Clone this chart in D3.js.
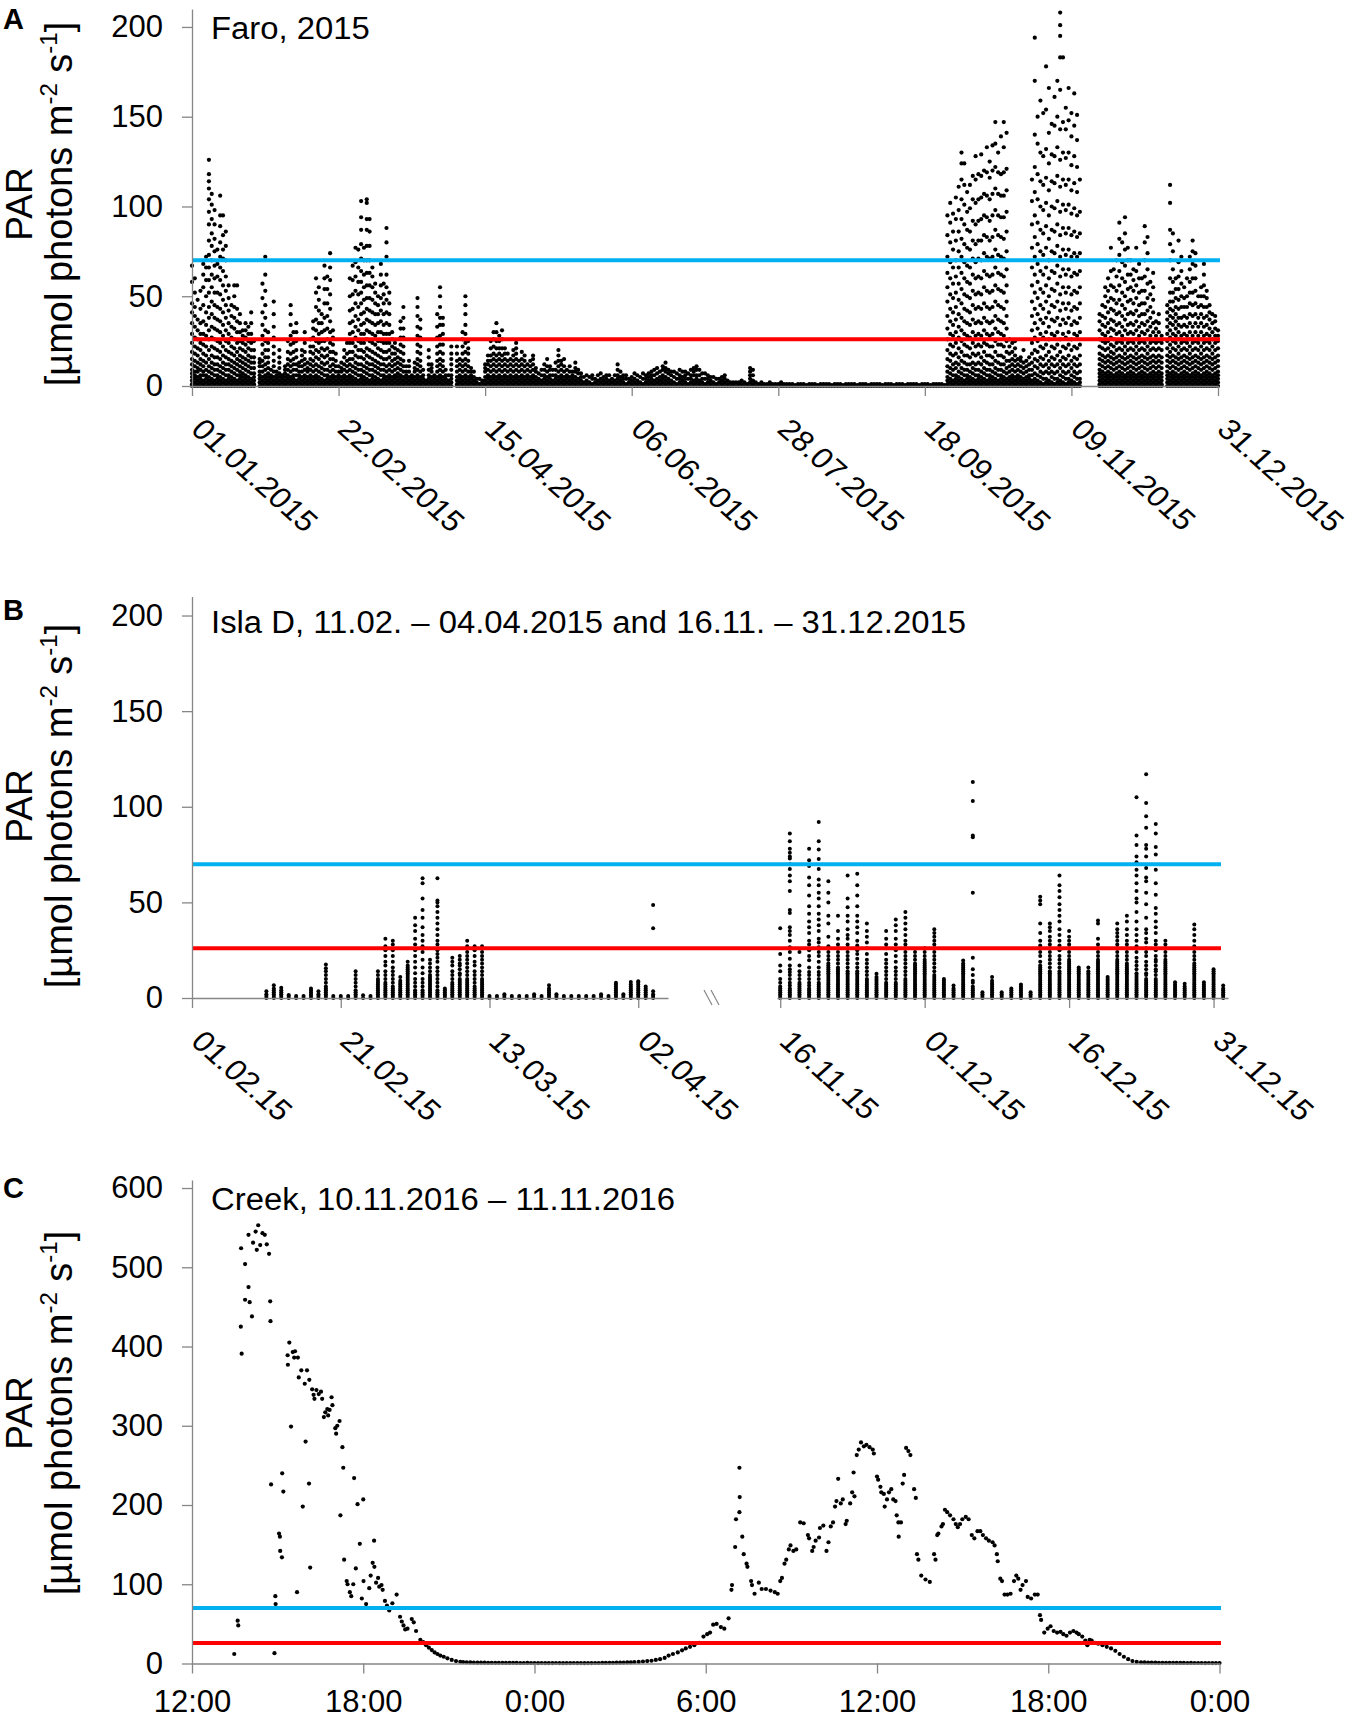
<!DOCTYPE html>
<html>
<head>
<meta charset="utf-8">
<script src="https://cdn.jsdelivr.net/npm/d3@7"></script>
<style>
  body { margin: 0; background: #fff; }
  svg text { font-family: "Liberation Sans", Arial, sans-serif; }
</style>
</head>
<body>
<svg id="chart" width="1355" height="1718"></svg>
<script>
// ---------- data ----------
// Faro 2015: one string per day, every reading of that day (PAR)
const faroJan = ["0 1 3 5 7 9 12 15 19 24 29 35 41 46 58 67","0 2 4 6 8 11 14 18 22 27 33 39 44 52 60","0 1 3 5 8 10 13 17 21 26 31 37 48","0 2 4 6 9 12 15 20 24 29 35 43 53","0 1 3 6 8 11 14 18 23 29 36 45 55 62 68","0 2 4 6 9 13 17 22 28 34 41 50 59 66 72","0 1 3 5 8 11 15 20 26 31 38 44 52 59 66 73 81 90 97 104 110 114 118 126","0 2 4 7 10 13 17 22 27 33 40 47 55 62 70 78 85 93 101 107","0 1 3 6 9 12 16 21 26 32 38 45 52 60 67 75 82 90 98","0 2 4 6 9 12 16 20 25 31 37 44 52 61 68 76","0 1 3 5 8 11 15 19 24 30 36 43 51 59 66 72 80 89 95 106","0 2 4 7 10 13 17 22 28 34 41 48 56 64 71 76 84 95","0 1 3 6 9 12 16 20 25 31 38 45 53 61 70 78 86","0 2 4 6 9 12 15 19 24 29 35 42 49 56","0 1 3 5 8 11 14 18 22 27 33 39 45","0 2 4 7 10 13 17 21 26 32 38 44 50 56","0 1 3 6 9 12 15 19 24 30 36 43 56","0 2 4 6 8 11 14 17 21 25 30 35 40","0 1 3 5 7 10 13 16 20 24 28 31","0 2 4 6 9 12 15 19 23 27 31 35","0 1 3 5 8 11 14 17 21 25 29 33","0 2 4 7 10 13 16 20 24 29 35 41","0 1 3 5 7 10 13 16 20 25","","0 2 4 6 8 11 13 15","0 1 3 5 8 11 14 18 23 28 34 41 49 57","0 2 4 6 9 12 16 20 25 31 38 45 53 62 72","0 1 3 5 7 10 13 16 20 24 30","0 2 4 6 9","0 1 3 5 8 11 14 18 22 27 33 40 47","0 2 4 6 8"];
const faroFeb = ["0 1 3 5 7 10 13 16 20","0 2 4 6","0 1 3 5 7 9 11","0 2 4 6 9 12 15 19 25","0 1 3 5 8 11 14 18 23 28 34 40 45","0 2 4 6 9 12 15 19 24 30","0 1 3 6 9 12 16 20 25 30 35","0 2 4 6 8 11 13","0 1 3 5 8 11 14 17 20","0 2 4 6 9 12 15 19 24 30","0 1 3 5 8 10 13","0 2 4 6 9 12 15 19 22 26","0 1 3 5 8 11 14 18 22 27 32 36","0 2 4 6 9 12 16 20 25 31 37 44 52 60","0 1 3 5 8 11 15 19 24 29 35 42 48 55","0 2 4 7 10 13 17 21 25 30 35 40","0 1 3 6 9 12 16 20 25 31 38 46 54 60 67","0 2 4 6 9 13 17 21 26 32 39 46 54 61","0 1 3 5 8 11 15 19 24 30 36 43 51 59 66 74","0 2 4 6 9 12 15 19 23 27 31","0 1 3 5 8 11 14 18","0 2 4 6 8 11","0 1 3 5 8 10 13","0 2 4 6 9 12 16 20","0 1 3 5 8 11 14 18 24","0 2 4 6 9 12 15 19 24 29 35 42 50 60","0 1 3 5 8 11 15 19 24 30 36 43 51 59 67","0 2 4 7 10 13 17 22 27 33 39 46 53 61 69 77"];
const faroMar = ["0 1 3 6 9 12 16 20 25 31 37 44 51 58 66 76","0 2 4 6 9 12 16 20 24 29 34 40 46 52 58 64 71 79 87 94 103","0 1 3 5 8 11 15 19 24 29 35 41 48 55 62 70 77","0 2 4 7 10 13 17 21 26 31 37 43 49 56 63 70 78 87 93 102 104","0 1 3 6 9 12 16 20 25 30 36 42 49 56 63 70 78 86 93","0 2 4 6 9 12 15 19 24 29 35 41 48 55 61 66","0 1 3 5 8 11 14 18 23 28 34 40 46 52 57","0 2 4 7 10 13 17 21 25 30 35 40 45 50","0 1 3 6 9 12 16 20 25 30 36 42 49 56 62 68","0 2 4 6 9 12 15 19 24 29 34 40 46 51 57","0 1 3 5 8 11 15 19 24 29 35 41 48 55 62 72 80 88","0 2 4 6 9 12 16 20 24 29 34 40 46 52","0 1 3 5 8 11 14 18 22 26 30","0 2 4 6 9 12 15 18 21 24","0 1 3 5 7 10 13 16 20","0 2 4 6 9 12 15 19 23 27 32 36","0 1 3 5 8 11 14 18 22 27 32 38 44","0 2 4 6 8 11","0 1 3 5 8 11 14","0 2 4 6","0 1 3 5 8 10 13","0 2 4 6 9 12 15 19 23 28 33 39 44 49","0 1 3 5 8 11 14 18 22 27 32 37","0 2 4 6 9","0 1 3","0 2 4 6 9 12 16 20","0 1 3 5 8 10 12","0 2 4 6","0 1 3 5 8 11 14 18 22 27 33 40","0 2 4 6 9 12 15 19 23 28 34 38 44 50 55","0 1 3 5 8 11 14 18 23 29 34 38"];
const faroApr = ["0 2 4 6 9","0 1 3 6","0 2 4 6 9 12 15 18 22","","0 1 3 5 8 11 14 18 22","0 2 4 6 9 12 15","0 1 3 5 8 11 14 18 22 26 30","0 2 4 6 9 12 15 19 24 29 34 40 45 50","0 1 3 5 8 11 14 18 21 25","0 2 4 6 8 10","0 1 3 5 8","0 2 4","0 1 4","0 2 3","0 1 3 5 8 10 12","0 2 4 6 9 12 14 17","0 1 3 5 8 11 14 17 21 25","0 2 4 6 9 12 15 18 22 26 30","0 1 3 5 8 11 14 17 21 25 30 35","0 2 4 6 9 12 15 18 21 25 28","0 1 3 5 8 11 14 17 21 26 31","0 2 4 6 9 12 15 18 21","0 1 3 5 8 11 14 18","0 2 4 6 9 12 15","0 1 3 5 8 11 14 17 20","0 2 4 6 9 12 15 18 21 24","0 1 3 5 8 11 14","0 2 4 6 9 12 15 19","0 1 3 5 8 11 14 17","0 2 4 6 9 12"];
const faroMay = ["0 1 3 5 8 11 14","0 2 4 6 9 12 15 17","0 1 3 5 8 10","0 2 4 7","0 1 3 6 9","0 2 4 6 9 12","0 1 3 5 8 11 15","0 2 4 6 9 11","0 1 3 6 9","0 2 4 6 9 13","0 1 3 5 8 11 14 17 20","0 2 4 6 9 12 14","0 1 3 5 8 11 15","0 2 4 6 9","0 1 3 5 8 11","0 2 4 6 8","0 1 3 5 8 10 13","0 2 4 7 9","0 1 3 5 7","0 2 5","0 1 3 6","0 2 5","0 1 4 6","0 2 4","0 1 3 6","0 2 4 7","0 1 3 5","0 2 4 6","0 1 3 6","0 2 4","0 1 3 6"];
const faroJun = ["0 2 4 6 9 12","0 1 3 5 8","0 2 4 6","0 1 4 6","0 2 4","0 1 3 5","0 2 4 7","0 1 3 6","0 2 5","0 1 4 7","0 2 4 6","0 1 3 5 7","0 2 4 6 8","0 1 3 6 9","0 2 4 7 10","0 1 3 5 8","0 2 4 6 9 11","0 1 3 5 8 10 13","0 2 4 7 9","0 1 3 6 8","0 2 5 8","0 1 4 7","0 2 4 6 9","0 1 3 5 8","0 2 4 6 8","0 1 4 7","0 2 4 6 9","0 1 3 6 8 10","0 2 4 6 9 11","0 1 3 6 9"];
const faroJul = ["0 2 4 7","0 1 4 7","0 2 4 6","0 1 3 5","0 2 5","0 1 4","0 2 4","0 1 3 5","0 2 4 6","0 1 3","0 2","0 1 2","0 2","0 1 2","0 1 3","0 2","0 1","0 2 4 6 8 10","0 1 3 6 9","0 2","0 1","0 1 2","0 1","0 1","0 1 2","0 1","0 1","0 1","0 1 2","0 1","0 1"];
const faroAug = ["0 1","0 1","0 0.5","0 1","0 1","0 1","0 0.5","0 1","0 1","0 1","0 0.5","0 1","0 1","0 1","0 1","0 0.5","0 1","0 1","0 1","0 0.5","0 1","0 1","0 1","0 1","0 0.5","0 1","0 1","0 1","0 0.5","0 1","0 1"];
const faroSep = ["0 1","0 1","0 0.5","0 1","0 1","0 1","0 0.5","0 1","0 1","0 1","0 0.5","0 1","0 1","0 1","0 1","0 0.5","0 1","0 1","0 1","0 0.5","0 1","0 1","0 1","0 1","0 0.5",
  "0 1 3 5 8 11 15 20 26 32 39 47 55 63 72 84 95","0 2 4 7 10 14 18 23 29 36 43 51 60 69 80 91 102","0 1 3 6 9 12 17 22 28 34 41 49 57 66 76 86 96","0 2 4 6 10 13 18 24 30 37 44 52 61 70 81 93 105","0 1 3 5 8 12 16 21 27 33 40 48 57 66 75 86 98 111"];
const faroOct = ["0 2 4 7 10 14 19 25 31 38 46 54 63 72 82 93 104 115 124 130","0 1 3 6 9 13 17 23 29 36 43 51 60 69 79 90 101 112 124","0 2 4 6 9 12 17 22 28 35 42 50 58 67 77 87 97 108","0 1 3 5 8 12 16 21 27 34 41 49 57 66 76 86 99 112","0 2 4 7 10 13 18 24 30 37 45 53 62 71 81 92 104 117","0 1 3 6 9 12 17 22 28 35 43 51 60 69 79 90 102 115 128","0 2 4 6 9 13 18 23 29 36 44 52 61 71 81 92 104 118","0 1 3 5 8 12 16 22 28 35 43 51 60 70 81 93 105 117 129","0 2 4 7 10 14 19 24 31 38 46 55 64 74 84 95 107 120","0 1 3 6 9 13 17 23 29 36 44 53 62 72 83 94 106 119 133","0 2 4 6 9 12 17 22 28 35 43 52 61 71 81 92 104 116 125","0 1 3 5 8 12 16 22 29 36 44 53 62 72 83 95 107 120 134","0 2 4 7 10 14 19 25 32 39 47 56 66 76 87 98 110 122 135 147","0 1 3 6 9 13 17 23 30 37 45 54 63 73 84 95 107 119 130","0 2 4 6 9 12 17 23 29 36 44 53 62 72 83 94 106 118 139","0 1 3 5 8 12 16 22 28 35 43 52 61 71 82 94 106 119 133 147","0 2 4 7 10 14 19 25 32 39 47 56 65 75 86 97 109 121 141",
  "0 1 3 5 8 11 14 18 22 26","0 2 4 6 9 12 15 19 24","0 1 3 5 8 11 14 17 21 25","0 2 4 6 9 12 15","0 1 3 5 8 11 14 16","0 2 4 7 10 13 20","0 1 3 5 8 11 14","0 2 4 6 9 12 16",
  "0 1 3 6 9 13 18 24 31 39 47 56 66 77 90 103 115","0 2 4 7 11 15 20 27 35 43 52 62 72 83 95 108 122 140 170 194","0 1 3 6 10 14 19 25 32 40 49 58 68 79 91 104 118 135 150","0 2 5 8 12 16 22 29 37 45 54 64 75 87 100 114 130 159","0 1 4 7 11 15 21 27 35 43 52 62 73 85 98 112 128 152","0 2 4 8 12 17 23 30 38 47 56 66 77 89 102 116 132 154 178"];
const faroNov = ["0 1 3 7 10 14 19 26 33 41 50 60 70 82 95 109 124 141 166","0 2 5 8 12 16 22 29 37 45 54 64 75 87 100 114 129 146","0 1 4 7 11 15 21 28 36 44 53 63 74 86 99 113 128 145 161","0 2 4 8 12 17 23 30 38 47 57 67 78 90 103 117 133 150 170","0 1 3 6 10 14 19 26 34 42 51 61 72 84 97 111 126 143 165 183 195 201 208","0 2 5 8 12 16 22 29 37 46 55 65 76 88 101 115 130 147 183","0 1 4 7 11 15 21 27 35 43 52 62 73 85 98 112 127 143 155","0 2 4 8 12 17 23 30 38 46 55 65 76 88 101 115 130 148 166","0 1 3 6 10 14 20 26 34 42 51 61 72 84 96 109 123 139 152","0 2 5 8 12 16 22 29 36 44 53 63 74 86 99 113 128 145 163","0 1 4 7 11 15 21 28 35 43 52 62 72 83 95 108 122 137 151","0 2 4 8 12 17 23 30 38 46 55 64 74 85 97 115",
  "","","","","","",
  "0 1 3 5 7 9 12 15 18 22 26 31 36 40","0 2 4 6 8 11 14 17 21 25 29 34 39 45","0 1 3 5 7 10 13 16 20 24 28 33 38 44 50 55","0 2 4 6 8 11 14 17 21 25 30 35 41 47 53 60","0 1 3 5 7 10 13 16 19 23 27 32 37 43 49 56 64 77","0 2 4 6 9 12 15 18 22 26 31 36 42 48 55 65","0 1 3 5 7 10 13 16 20 24 29 34 40 46 53 61 70","0 2 4 6 8 11 14 17 21 25 30 35 41 48 56 64 73 82 91","0 1 3 5 7 10 13 16 20 24 28 33 39 45 52 60 69 80","0 2 4 6 9 12 15 18 22 26 31 37 43 50 58 67 76 85 94","0 1 3 5 7 10 13 16 20 24 29 34 40 47 54 62 70 77","0 2 4 6 8 11 14 17 21 25 30 35 41 48 55 62 70"];
const faroDec = ["0 1 3 5 7 10 13 16 20 24 29 34 40 46 53 59 65","0 2 4 6 9 12 15 18 22 26 31 36 42 49 56 64 77","0 1 3 5 7 10 13 16 20 24 28 33 39 45 52 60 68","0 2 4 6 8 11 14 17 21 25 30 35 40 46 53 60","0 1 3 5 7 10 13 16 20 24 29 34 40 46 53 61 70 80 89","0 2 4 6 9 12 15 18 22 26 31 36 42 49 57 65 74 83","0 1 3 5 7 10 13 16 20 24 28 33 38 44 51 58","0 2 4 6 8 11 14 17 21 25 30 35 41 48 55 63","0 1 3 5 7 10 13 16 20 24 28 32 36","0 2 4 6 8 11 14 17 21 25 30 35 40","0 1 3 5 7 10 13 16 20 24 28",
  "",
  "0 2 4 6 8 11 14 17 21 25 29 33 37 41 45","0 1 3 5 7 10 13 16 19 23 27 31 35 39 43 47 52 60 70 79 87 102 112","0 2 4 6 8 11 14 17 21 25 29 34 38 42 47 52 58 65 75 85","0 1 3 5 7 10 13 16 20 24 28 32 36 40 44 49 54 60","0 2 4 6 9 12 15 18 22 26 30 34 38 43 48 54 61 69 81","0 1 3 5 7 10 13 16 20 24 28 33 38 44 50 57 64 72","0 2 4 6 8 11 14 17 21 25 29 34 39 44 49 55","0 1 3 5 7 10 13 16 20 24 28 33 38 44 50 60","0 2 4 6 9 12 15 18 22 26 30 35 40 46 52 58 65 72","0 1 3 5 7 10 13 16 20 24 28 33 39 45 52 60 68 75 81","0 2 4 6 8 11 14 17 21 25 30 35 40 46 53 60 67 74","0 1 3 5 7 10 13 16 20 24 28 33 38 44 50","0 2 4 6 9 12 15 18 22 26 30 35 40 45 50 55","0 1 3 5 7 10 13 16 20 24 28 33 38 44 50 56 62 68","0 2 4 6 8 11 14 17 21 25 29 34 39 44 49 53","0 1 3 5 7 10 13 16 20 24 28 32 37 41 45","0 2 4 6 9 12 15 18 22 26 30 35 40","0 1 3 5 7 10 13 16 20 24 28 32 36 39","0 2 4 6 8 11 14 17 21 25 28 31"];
const faroTicks = ["01.01.2015","22.02.2015","15.04.2015","06.06.2015","28.07.2015","18.09.2015","09.11.2015","31.12.2015"];

// Isla D: 11.02.–04.04.2015 and 16.11.2015–01.01.2016, one string per day
const islaSpring = ["0 1 2 3.5","0 1 2 3 4 5 6.7","0 1 2 3 4 5.3","0 1 1.6","0 1","0 1","0 1 2 3 4 5","0 1 2 3.5","0 1 2 3 4 5 6 8 10 12 14 15.5 17.5","0 1","0 1","0 1","0 1 2 3 4 6 8 10 12 14","0 1.5","0 1","0 1 2 3 4 5 6 7 8 9 10 12 14","0 1 2 3 4 5 6 7 8 10 12 14 17 19 22 25 27 31","0 1 2 3 4 5 6 8 10 12 14 16 19 22 25 28 30","0 1 2 3 4 5 6 7 8 9 11","0 1 2 3 4 5 6 7 8 9 10 11 12 13 14 15 16 17 19","0 1 2 3 4 6 8 10 13 16 19 22 25 28 31 35 38 42","0 1 2 3 4 6 8 10 13 16 20 24 27 30 33 37 42 46 52 60 62.6","0 1 2 3 4 5 6 7 8 9 10 11 12 14 16 18 20","0 1 2 3 4 6 8 10 12 14 16 19 21 23 25 28 30 33 36 39 42 45 48 50 51 62.6","0 1 2 3 4 5","0 1 2 3 4 5 6 7 8 10 12 14 17 19 21","0 1 2 3 4 5 6 7 8 9 10 12 13 15 17 18 20 22","0 1 2 3 4 5 6 7 8 9 10 12 14 16 18 20 22 24 26 27 30","0 1 2 3 4 5 6 8 10 12 14 17 19 22 25 27","0 1 2 3 4 5 6 7 8 9 10 12 14 16 18 20 22 24 26 27","0 1","0 1","0 1 2","0 1","0 1","0 1","0 1 2","0 1","0 1 2 3 4 5 6.7","0 1 2","0 1","0 1","0 1","0 1","0 1","0 1 2","0 1","0 1 2 3 4 5 6 7 8","0 1 2","0 1 2 3 4 5 6 7 8.4","0 1 2 3 4 5 6 7 8 8.8","0 1 2 3 4 5 6","0 1 2 3.5 36.5 48.6"];
const islaWinter = ["0 1 2 3 4 5 6 8 10 14 17 23 36.5","0 1 2 3 4 5 6.6 8 10 12 13.6 15 17 20.5 24 26.6 30 33 35 37 44.5 46 56 61 64 67.5 70 73 74 76 78 82 86","0 1 2 3 4 5 6 7 8 10 12 14 17 24","0 1 2 3 4 5 6.6 8 10 12 13.6 16 19.7 22 25 28 30 34 37 40 44 48 53.6 59 63 69 72 78","0 1 2 3 4 5 6 7 8 10 12 13.6 16 19 22 24 26.6 29 31 35 38 41 44 48 52 55 59 62 67.5 72.7 77.6 82 92","0 1 2 3 4 5 6 7 8 9 10 11 12 13 14 15 16 17 18 20 22 24 27 32 39 43 50 55 61","0 1 2 3 4 5 6 7 8 9 10 11 12 13 14 15 16 18 20 22 24 26 28 31 35 43","0 1 2 3 4 5 6 7 8 9 10 11 12 13 14 16 18 20 22 24 26 28 31 33 36 40 43 47.5 52 64","0 1 2 3 4 5 6 7 8 9 10 11 12 13 14 16 18 20.5 23 25 27.5 30 34 37 40 43 48 53.6 59 65","0 1 2 3 4 5 6 7 8 9 10 12 14 16 18 20 23 26 29 32 35 39","0 1 2 3 4 5 6 7 8 9 10 11 12.7","0 1 2 3 4 5 6 7 8 10 12 14 16 18 20 23 26 28 31 35","0 1 2 3 4 5 6 7 8 10 12 14 16 19 22 25 28 31 35 38 41","0 1 2 3 4 5 6 7 8 9 10 12 14 16 18 20 22 24 26 28 30 33 36 39 42 45","0 1 2 3 4 5 6 7 8 9 10 11 12 13 14 15 16 17 18 20 22 24","0 1 2 3 4 5 6 7 8 9 10 11 12 13 14 15 16 17 18 19 20 22 24 26","0 1 2 3 4 5 6 7 8 9 10 11 12 14 16 18 20 22 24 26 28 30 32 34 36","0 1 2 3 4 5 6 7 8 9 10","0 1 2 3 4 5 6.6","0 1 2 3 4 5 6 7 8 9 10 11 12 13 14 15 16 17 18 19.6","0 1 2 3 4 5 6 8 9 12 15 21 55 84 85 103 113","0 1 2 3","0 1 2 3 4 5 6 7 8 9 11","0 1 2 3","0 1 2 3 4 5","0 1 2 3 4 5 6 7","0 1 2 3","0 1 2 3 4 5 6 7 8 9 10 11 12 13 14 15 16 17 19 22 24 27.5 30 34 39 49 51 53","0 1 2 3 4 5 6 7 8 9 10 11 12 13 14 16 18 20 22 24 26 28 30 32 35 37 39","0 1 2 3 4 5 6 7 8 9 10 11 12 13 14 16 18 20 22 25 27.5 30 33 36 40 43 46 49 52.7 56 59 64","0 1 2 3 4 5 6 7 8 9 10 11 12 13 14 15 16 17 18 19 20 22 24 26 28 30 32 35","0 1 2 3 4 5 6 7 8 9 10 11 12 13 14 15 16","0 1 2 3 4 5 6 7 8 9 10 11 12 13 14 16","0 1 2 3 4 5 6 7 8 9 10 11 12 13 14 15 16 17 18 19 20 22 24 26 28 31 39 40.5","0 1 2 3 4 5 6 7 8 9 10 11","0 1 2 3 4 5 6 7 8 9 10 11 12 13 14 15 16 17 18 19 20 22 24 26 28 30 32 34 36 39","0 1 2 3 4 5 6 7 8 9 10 11 12 13 14 15 16 17 18 20 22 24 26 28 30 33 36 40 43","0 1 2 3 4 5 6 7 8 9 10 11 12 13 15 17 19 21 24 27 30 33 36 40 45 50 52 56 60 64 67 71 74 80 85 105","0 1 2 3 4 5 6 7 8 9 10 12 13 15 17 19 22 24 26 29 31 34 36 42 49 55 61 63 68 74 78 80 89 95 102 117","0 1 2 3 4 5 6 7 8 9 10 12 14 15 17 19 20 22 25 28 30 34 37 40 44 47 54 60 67 75 79 86 91","0 1 2 3 4 5 6 7 8 9 10 11 12 13 14 15 16 17 18 19 20 22 24 26 28 30","0 1 2 3 4 5 6 7 8.3","0 1 2 3 4 5 6 7.5","0 1 2 3 4 5 6 7 8 9 10 11 12 13 14 15 16 17 18 20 22 24 27 30 33 36 38.4","0 1 2 3 4 5 6 7 8.3","0 1 2 3 4 5 6 7 8 9 10 11 12 13 14 15","0 1 2 3 4 5 6.6"];
const islaTicksSpring = ["01.02.15","21.02.15","13.03.15","02.04.15"];
const islaTicksWinter = ["16.11.15","01.12.15","16.12.15","31.12.15"];

// Creek 10.11.2016 12:00 – 12.11.2016 0:00, [hours after 12:00, PAR]
const creekDay1 = [[1.48,12],[1.6,54],[1.62,48],[1.71,425],[1.74,391],[1.72,524],[1.86,504],[1.86,459],[1.98,541],[1.98,475],[2.02,456],[2.1,438],[2.14,531],[2.23,545],[2.27,522],[2.32,553],[2.39,528],[2.47,543],[2.55,541],[2.62,529],[2.7,517],[2.74,457],[2.75,432],[2.77,226],[2.89,13],[2.92,85],[2.93,75],[3.05,164],[3.08,160],[3.09,142],[3.15,134],[3.16,240],[3.2,217],[3.35,389],[3.36,377],[3.41,405],[3.47,299],[3.53,393],[3.58,386],[3.61,394],[3.68,90],[3.71,386],[3.74,361],[3.83,370],[3.88,198],[3.95,353],[3.98,280],[4.03,370],[4.1,227],[4.11,358],[4.14,121],[4.21,346],[4.26,339],[4.29,334],[4.36,345],[4.44,340],[4.52,343],[4.56,334],[4.62,311],[4.67,317],[4.74,321],[4.77,313],[4.82,320],[4.89,336],[4.92,326],[5.02,297],[5.05,290],[5.09,300],[5.17,306],[5.2,187],[5.27,273],[5.3,247],[5.33,131],[5.42,104],[5.45,100],[5.53,90],[5.58,85],[5.65,100],[5.68,234],[5.74,120],[5.8,201],[5.88,151],[5.95,82],[6.0,207],[6.01,104],[6.1,75],[6.21,95],[6.26,111],[6.33,127],[6.38,155],[6.39,122],[6.45,102],[6.52,108],[6.56,97],[6.64,99],[6.68,93],[6.76,79],[6.83,73],[6.91,67],[7.02,76],[7.17,87],[7.29,59],[7.35,53],[7.41,48],[7.47,43],[7.55,44],[7.7,56],[7.77,52],[7.85,41],[8.0,30],[8.1,27],[8.2,23],[8.3,20],[8.4,17],[8.5,14],[8.6,12],[8.7,10],[8.82,8.5],[8.95,6.5],[9.1,4.5],[9.25,3],[9.4,2.2]];
const creekNight1 = [1.8,1.6,1.4,1.2,1.1,1,1,0.9,0.9,0.8,0.8,0.8,0.7,0.7,0.8,0.7,0.6,0.6,0.7,0.6,0.5,0.5,0.6,0.5,0.5,0.5,0.6,0.5,0.4,0.5,0.5,0.6,0.5,0.5,0.4,0.5,0.5,0.6,0.6,0.7,0.7,0.8,0.9,1,1,1.2,1.3,1.5,1.8];
const creekNight1Start = 9.5;
const creekDay2 = [[15.65,2],[15.8,2.5],[15.95,3],[16.1,3.5],[16.25,4.5],[16.4,5.5],[16.56,7],[16.7,10],[16.85,12],[17.02,14],[17.17,16.6],[17.3,19],[17.45,21],[17.6,23],[17.77,26],[17.92,34],[18.05,37],[18.15,39],[18.26,49],[18.38,50],[18.53,46],[18.65,44],[18.8,57],[18.9,93],[18.92,99],[19.03,147],[19.06,182],[19.18,191],[19.19,210],[19.18,247],[19.28,160],[19.33,138],[19.43,126],[19.46,122],[19.59,104],[19.62,99],[19.71,88],[19.86,102],[19.96,94],[20.11,94],[20.27,92],[20.42,90],[20.52,88],[20.61,104],[20.67,108],[20.76,126],[20.82,131],[20.91,144],[20.97,149],[21.07,142],[21.17,144],[21.31,178],[21.43,177],[21.58,162],[21.62,158],[21.73,142],[21.78,147],[21.85,155],[21.97,159],[22.0,171],[22.12,174],[22.23,142],[22.3,153],[22.38,173],[22.46,178],[22.53,198],[22.58,205],[22.64,233],[22.73,202],[22.8,207],[22.9,176],[22.94,180],[23.06,202],[23.13,216],[23.18,241],[23.21,211],[23.29,263],[23.36,270],[23.44,279],[23.54,274],[23.63,276],[23.74,273],[23.85,270],[23.89,265],[24.0,236],[24.04,232],[24.12,223],[24.15,216],[24.24,214],[24.27,198],[24.35,207],[24.42,216],[24.5,220],[24.57,207],[24.65,205],[24.69,187],[24.75,178],[24.76,160],[24.84,178],[24.9,227],[24.95,238],[25.02,272],[25.1,268],[25.17,263],[25.3,220],[25.36,209],[25.4,138],[25.45,131],[25.55,111],[25.7,106],[25.85,103],[26.0,138],[26.05,131],[26.11,162],[26.15,164],[26.26,173],[26.31,176],[26.38,194],[26.46,191],[26.56,187],[26.68,182],[26.76,176],[26.83,172],[26.91,176],[26.99,182],[27.11,185],[27.21,182],[27.32,162],[27.41,158],[27.52,167],[27.62,167],[27.71,162],[27.82,158],[27.92,155],[28.05,153],[28.12,149],[28.2,138],[28.23,129],[28.32,107],[28.38,104],[28.47,87],[28.57,87],[28.68,88],[28.8,104],[28.88,111],[28.95,107],[29.03,93],[29.1,99],[29.22,104],[29.28,84],[29.4,82],[29.53,87],[29.63,87],[29.71,61],[29.75,55],[29.86,39],[29.98,44],[30.08,47],[30.19,41],[30.31,39],[30.43,40],[30.53,37],[30.64,35],[30.76,39],[30.88,41],[30.99,39],[31.07,37],[31.19,34],[31.3,29],[31.37,23],[31.45,30],[31.52,29],[31.64,26],[31.75,25],[31.9,23],[32.05,21],[32.2,19],[32.35,16],[32.5,12],[32.65,8.5],[32.8,5.4],[32.95,3],[33.1,2]];
const creekNight2 = [1.5,1.3,1.2,1,1,0.9,0.9,0.8,0.8,0.8,0.7,0.7,0.7,0.6,0.7,0.6,0.6,0.6,0.5,0.6,0.5,0.5,0.5];
const creekNight2Start = 33.25;
const creekNightStep = 0.125;
const creekTicks = ["12:00","18:00","0:00","6:00","12:00","18:00","0:00"];

const thresholds = [70, 26];
const panelLetters = ["A", "B", "C"];
const panelTitles = ["Faro, 2015", "Isla D, 11.02. \u2013 04.04.2015 and 16.11. \u2013 31.12.2015", "Creek, 10.11.2016 \u2013 11.11.2016"];
const yTitle = "PAR";
const yUnit = ["[\u00b5mol photons m", "-2", " s", "-1", "]"];

// ---------- drawing ----------
const svg = d3.select("#chart");
const FONT = "'Liberation Sans', Arial, sans-serif";
const grey = "#868686";
const lineColors = ["#00B0F0", "#FF0000"];
const values = s => s.trim() === "" ? [] : s.trim().split(/\s+/).map(Number);

function dailyPoints(start, days) {
  const pts = [];
  days.forEach((s, i) => {
    const date = d3.utcDay.offset(start, i);
    values(s).forEach(v => pts.push({ x: date, v }));
  });
  return pts;
}

function dots(pts, x, y, r) {
  svg.append("g").selectAll("circle").data(pts).join("circle")
    .attr("cx", d => x(d.x)).attr("cy", d => y(d.v)).attr("r", r).attr("fill", "#000");
}

function styleAxis(g) {
  g.attr("font-family", FONT).attr("font-size", 31);
  g.selectAll(".domain, .tick line").attr("stroke", grey).attr("stroke-width", 1.3);
  g.selectAll("text").attr("fill", "#000");
}

function leftAxis(y, ticks) {
  const g = svg.append("g").attr("transform", "translate(192,0)")
    .call(d3.axisLeft(y).tickValues(ticks).tickSize(10).tickSizeOuter(0).tickPadding(19));
  styleAxis(g);
}

// rotated date labels; the source figure is slightly stretched horizontally
function dateAxis(x, ticks, y0, fmt) {
  const g = svg.append("g").attr("transform", `translate(0,${y0})`)
    .call(d3.axisBottom(x).tickValues(ticks).tickFormat(fmt).tickSize(10).tickSizeOuter(0));
  styleAxis(g);
  g.selectAll("text").attr("x", 0).attr("y", 0).attr("dy", 0).attr("font-size", 29)
    .attr("text-anchor", "start").attr("transform", "translate(-3,45) scale(1.12,1) rotate(45)");
}

function thresholdLines(x0, x1, y) {
  svg.append("g").selectAll("line").data(thresholds).join("line")
    .attr("x1", x0).attr("x2", x1).attr("y1", d => y(d)).attr("y2", d => y(d))
    .attr("stroke", (d, i) => lineColors[i]).attr("stroke-width", 4);
}

function titles(i, letterY, titleY, cy) {
  svg.append("text").attr("x", 3).attr("y", letterY).attr("font-family", FONT)
    .attr("font-size", 29).attr("font-weight", "bold").text(panelLetters[i]);
  svg.append("text").attr("transform", `translate(211,${titleY}) scale(1.06,1)`)
    .attr("font-family", FONT).attr("font-size", 31).text(panelTitles[i]);
  const g = svg.append("g").attr("font-family", FONT).attr("text-anchor", "middle");
  g.append("text").attr("font-size", 37).attr("transform", `translate(32,${cy}) rotate(-90)`).text(yTitle);
  const t = g.append("text").attr("font-size", 38).attr("transform", `translate(72,${cy}) rotate(-90)`);
  yUnit.forEach((s, k) => {
    const sup = k % 2 === 1;
    t.append("tspan").attr("font-size", sup ? 24 : null)
      .attr("dy", k === 0 ? 0 : (sup ? -15 : 15)).text(s);
  });
}

// Panel A: Faro
const parseA = d3.utcParse("%d.%m.%Y");
const faroDays = [].concat(faroJan, faroFeb, faroMar, faroApr, faroMay, faroJun, faroJul, faroAug, faroSep, faroOct, faroNov, faroDec);
const xA = d3.scaleUtc().domain([parseA("01.01.2015"), parseA("31.12.2015")]).range([192, 1218]);
const yA = d3.scaleLinear().domain([0, 210]).range([386, 9]);
dots(dailyPoints(parseA("01.01.2015"), faroDays), xA, yA, 2.1);
thresholdLines(192, 1220, yA);
leftAxis(yA, [0, 50, 100, 150, 200]);
dateAxis(xA, faroTicks.map(parseA), 386, d3.utcFormat("%d.%m.%Y"));
titles(0, 29, 39, 204);

// Panel B: Isla D (broken date axis)
const parseB = d3.utcParse("%d.%m.%y");
const xB1 = d3.scaleUtc().domain([parseB("01.02.15"), parseB("06.04.15")]).range([192, 668]);
const xB2 = d3.scaleUtc().domain([d3.utcHour.offset(parseB("16.11.15"), -8), d3.utcHour.offset(parseB("01.01.16"), 12)]).range([777, 1228]);
const yB = d3.scaleLinear().domain([0, 210]).range([998, 596.4]);
dots(dailyPoints(parseB("11.02.15"), islaSpring), xB1, yB, 2);
dots(dailyPoints(parseB("16.11.15"), islaWinter), xB2, yB, 2);
thresholdLines(192, 1221, yB);
leftAxis(yB, [0, 50, 100, 150, 200]);
dateAxis(xB1, islaTicksSpring.map(parseB), 998, d3.utcFormat("%d.%m.%y"));
dateAxis(xB2, islaTicksWinter.map(parseB), 998, d3.utcFormat("%d.%m.%y"));
const bx = xB1.range()[1] + 40;
svg.append("g").selectAll("line").data([0, 7]).join("line")
  .attr("x1", d => bx + d - 4).attr("x2", d => bx + d + 4)
  .attr("y1", yB(0) - 8).attr("y2", yB(0) + 7)
  .attr("stroke", grey).attr("stroke-width", 1.2);
titles(1, 620, 633, 806);

// Panel C: Creek
const xC = d3.scaleLinear().domain([0, 36]).range([192, 1219.5]);
const yC = d3.scaleLinear().domain([0, 610]).range([1663.5, 1180.1]);
const creekPts = [].concat(
  creekDay1,
  creekNight1.map((v, i) => [creekNight1Start + i * creekNightStep, v]),
  creekDay2,
  creekNight2.map((v, i) => [creekNight2Start + i * creekNightStep, v])
).map(([h, v]) => ({ x: h, v }));
dots(creekPts, xC, yC, 2.1);
thresholdLines(192, 1221, yC);
leftAxis(yC, [0, 100, 200, 300, 400, 500, 600]);
const gxC = svg.append("g").attr("transform", `translate(0,${yC(0)})`)
  .call(d3.axisBottom(xC).tickValues(d3.range(0, 37, 6)).tickFormat((d, i) => creekTicks[i])
    .tickSize(10).tickSizeOuter(0).tickPadding(16));
styleAxis(gxC);
titles(2, 1198, 1210, 1413);
</script>
</body>
</html>
